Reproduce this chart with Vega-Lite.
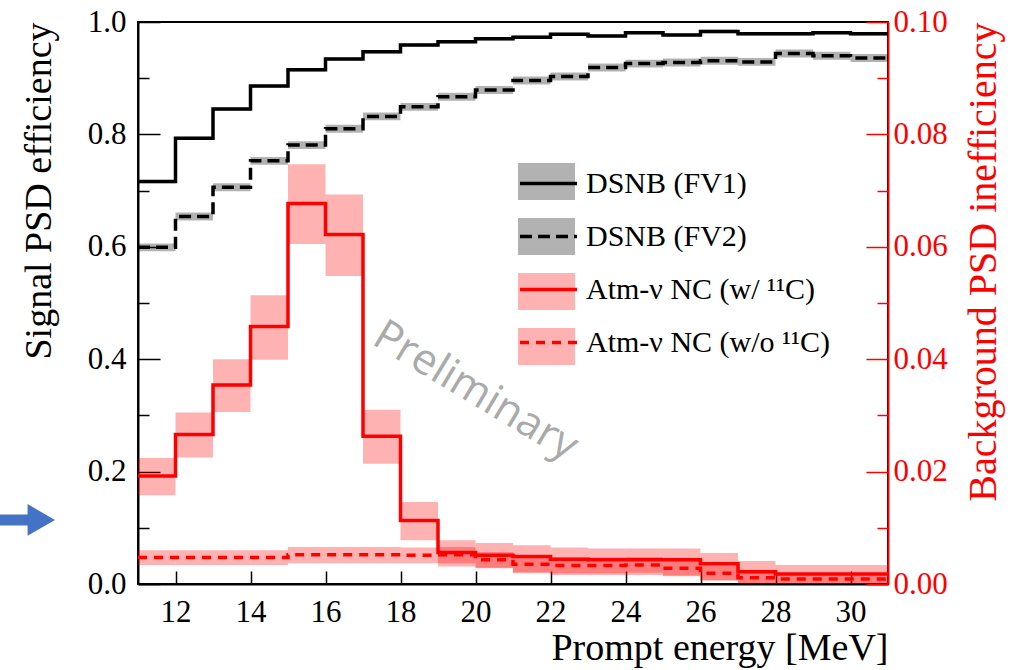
{
  "$schema": "https://vega.github.io/schema/vega-lite/v6.json",
  "width": 750,
  "height": 562,
  "autosize": {"type": "none"},
  "padding": {"left": 138, "top": 22, "right": 127, "bottom": 86},
  "background": "white",
  "config": {
    "view": {"stroke": "black", "strokeWidth": 2},
    "font": "Liberation Serif",
    "axis": {"grid": false}
  },
  "datasets": {
    "bins": [
      {"series": "DSNB (FV1)", "e": 11, "e2": 12, "lo": 0.713, "hi": 0.719},
      {"series": "DSNB (FV1)", "e": 12, "e2": 13, "lo": 0.790, "hi": 0.796},
      {"series": "DSNB (FV1)", "e": 13, "e2": 14, "lo": 0.842, "hi": 0.848},
      {"series": "DSNB (FV1)", "e": 14, "e2": 15, "lo": 0.883, "hi": 0.889},
      {"series": "DSNB (FV1)", "e": 15, "e2": 16, "lo": 0.912, "hi": 0.918},
      {"series": "DSNB (FV1)", "e": 16, "e2": 17, "lo": 0.931, "hi": 0.937},
      {"series": "DSNB (FV1)", "e": 17, "e2": 18, "lo": 0.944, "hi": 0.950},
      {"series": "DSNB (FV1)", "e": 18, "e2": 19, "lo": 0.956, "hi": 0.962},
      {"series": "DSNB (FV1)", "e": 19, "e2": 20, "lo": 0.962, "hi": 0.968},
      {"series": "DSNB (FV1)", "e": 20, "e2": 21, "lo": 0.967, "hi": 0.973},
      {"series": "DSNB (FV1)", "e": 21, "e2": 22, "lo": 0.970, "hi": 0.976},
      {"series": "DSNB (FV1)", "e": 22, "e2": 23, "lo": 0.975, "hi": 0.981},
      {"series": "DSNB (FV1)", "e": 23, "e2": 24, "lo": 0.972, "hi": 0.978},
      {"series": "DSNB (FV1)", "e": 24, "e2": 25, "lo": 0.978, "hi": 0.984},
      {"series": "DSNB (FV1)", "e": 25, "e2": 26, "lo": 0.974, "hi": 0.980},
      {"series": "DSNB (FV1)", "e": 26, "e2": 27, "lo": 0.980, "hi": 0.986},
      {"series": "DSNB (FV1)", "e": 27, "e2": 28, "lo": 0.976, "hi": 0.982},
      {"series": "DSNB (FV1)", "e": 28, "e2": 29, "lo": 0.976, "hi": 0.982},
      {"series": "DSNB (FV1)", "e": 29, "e2": 30, "lo": 0.978, "hi": 0.984},
      {"series": "DSNB (FV1)", "e": 30, "e2": 31, "lo": 0.976, "hi": 0.982},
      {"series": "DSNB (FV2)", "e": 11, "e2": 12, "lo": 0.592, "hi": 0.606},
      {"series": "DSNB (FV2)", "e": 12, "e2": 13, "lo": 0.647, "hi": 0.661},
      {"series": "DSNB (FV2)", "e": 13, "e2": 14, "lo": 0.699, "hi": 0.713},
      {"series": "DSNB (FV2)", "e": 14, "e2": 15, "lo": 0.746, "hi": 0.760},
      {"series": "DSNB (FV2)", "e": 15, "e2": 16, "lo": 0.774, "hi": 0.788},
      {"series": "DSNB (FV2)", "e": 16, "e2": 17, "lo": 0.803, "hi": 0.817},
      {"series": "DSNB (FV2)", "e": 17, "e2": 18, "lo": 0.825, "hi": 0.839},
      {"series": "DSNB (FV2)", "e": 18, "e2": 19, "lo": 0.842, "hi": 0.856},
      {"series": "DSNB (FV2)", "e": 19, "e2": 20, "lo": 0.860, "hi": 0.874},
      {"series": "DSNB (FV2)", "e": 20, "e2": 21, "lo": 0.872, "hi": 0.886},
      {"series": "DSNB (FV2)", "e": 21, "e2": 22, "lo": 0.889, "hi": 0.903},
      {"series": "DSNB (FV2)", "e": 22, "e2": 23, "lo": 0.896, "hi": 0.910},
      {"series": "DSNB (FV2)", "e": 23, "e2": 24, "lo": 0.912, "hi": 0.926},
      {"series": "DSNB (FV2)", "e": 24, "e2": 25, "lo": 0.919, "hi": 0.933},
      {"series": "DSNB (FV2)", "e": 25, "e2": 26, "lo": 0.921, "hi": 0.935},
      {"series": "DSNB (FV2)", "e": 26, "e2": 27, "lo": 0.924, "hi": 0.938},
      {"series": "DSNB (FV2)", "e": 27, "e2": 28, "lo": 0.922, "hi": 0.936},
      {"series": "DSNB (FV2)", "e": 28, "e2": 29, "lo": 0.937, "hi": 0.951},
      {"series": "DSNB (FV2)", "e": 29, "e2": 30, "lo": 0.933, "hi": 0.947},
      {"series": "DSNB (FV2)", "e": 30, "e2": 31, "lo": 0.929, "hi": 0.943},
      {"series": "Atm-ν NC (w/ ¹¹C)", "e": 11, "e2": 12, "lo": 0.0158, "hi": 0.0224},
      {"series": "Atm-ν NC (w/ ¹¹C)", "e": 12, "e2": 13, "lo": 0.0225, "hi": 0.0305},
      {"series": "Atm-ν NC (w/ ¹¹C)", "e": 13, "e2": 14, "lo": 0.0306, "hi": 0.0400},
      {"series": "Atm-ν NC (w/ ¹¹C)", "e": 14, "e2": 15, "lo": 0.0399, "hi": 0.0514},
      {"series": "Atm-ν NC (w/ ¹¹C)", "e": 15, "e2": 16, "lo": 0.0605, "hi": 0.0747},
      {"series": "Atm-ν NC (w/ ¹¹C)", "e": 16, "e2": 17, "lo": 0.0548, "hi": 0.0693},
      {"series": "Atm-ν NC (w/ ¹¹C)", "e": 17, "e2": 18, "lo": 0.0214, "hi": 0.0310},
      {"series": "Atm-ν NC (w/ ¹¹C)", "e": 18, "e2": 19, "lo": 0.0078, "hi": 0.0146},
      {"series": "Atm-ν NC (w/ ¹¹C)", "e": 19, "e2": 20, "lo": 0.0031, "hi": 0.0078},
      {"series": "Atm-ν NC (w/ ¹¹C)", "e": 20, "e2": 21, "lo": 0.0028, "hi": 0.0073},
      {"series": "Atm-ν NC (w/ ¹¹C)", "e": 21, "e2": 22, "lo": 0.0019, "hi": 0.0069},
      {"series": "Atm-ν NC (w/ ¹¹C)", "e": 22, "e2": 23, "lo": 0.0016, "hi": 0.0065},
      {"series": "Atm-ν NC (w/ ¹¹C)", "e": 23, "e2": 24, "lo": 0.0016, "hi": 0.0063},
      {"series": "Atm-ν NC (w/ ¹¹C)", "e": 24, "e2": 25, "lo": 0.0016, "hi": 0.0063},
      {"series": "Atm-ν NC (w/ ¹¹C)", "e": 25, "e2": 26, "lo": 0.0015, "hi": 0.0063},
      {"series": "Atm-ν NC (w/ ¹¹C)", "e": 26, "e2": 27, "lo": 0.0007, "hi": 0.0055},
      {"series": "Atm-ν NC (w/ ¹¹C)", "e": 27, "e2": 28, "lo": 0.0001, "hi": 0.0041},
      {"series": "Atm-ν NC (w/ ¹¹C)", "e": 28, "e2": 29, "lo": 0.0000, "hi": 0.0034},
      {"series": "Atm-ν NC (w/ ¹¹C)", "e": 29, "e2": 30, "lo": 0.0000, "hi": 0.0034},
      {"series": "Atm-ν NC (w/ ¹¹C)", "e": 30, "e2": 31, "lo": 0.0000, "hi": 0.0034},
      {"series": "Atm-ν NC (w/o ¹¹C)", "e": 11, "e2": 12, "lo": 0.0034, "hi": 0.0060},
      {"series": "Atm-ν NC (w/o ¹¹C)", "e": 12, "e2": 13, "lo": 0.0034, "hi": 0.0060},
      {"series": "Atm-ν NC (w/o ¹¹C)", "e": 13, "e2": 14, "lo": 0.0034, "hi": 0.0060},
      {"series": "Atm-ν NC (w/o ¹¹C)", "e": 14, "e2": 15, "lo": 0.0034, "hi": 0.0060},
      {"series": "Atm-ν NC (w/o ¹¹C)", "e": 15, "e2": 16, "lo": 0.0037, "hi": 0.0066},
      {"series": "Atm-ν NC (w/o ¹¹C)", "e": 16, "e2": 17, "lo": 0.0037, "hi": 0.0066},
      {"series": "Atm-ν NC (w/o ¹¹C)", "e": 17, "e2": 18, "lo": 0.0037, "hi": 0.0066},
      {"series": "Atm-ν NC (w/o ¹¹C)", "e": 18, "e2": 19, "lo": 0.0037, "hi": 0.0065},
      {"series": "Atm-ν NC (w/o ¹¹C)", "e": 19, "e2": 20, "lo": 0.0037, "hi": 0.0066},
      {"series": "Atm-ν NC (w/o ¹¹C)", "e": 20, "e2": 21, "lo": 0.0029, "hi": 0.0057},
      {"series": "Atm-ν NC (w/o ¹¹C)", "e": 21, "e2": 22, "lo": 0.0021, "hi": 0.0049},
      {"series": "Atm-ν NC (w/o ¹¹C)", "e": 22, "e2": 23, "lo": 0.0019, "hi": 0.0047},
      {"series": "Atm-ν NC (w/o ¹¹C)", "e": 23, "e2": 24, "lo": 0.0019, "hi": 0.0047},
      {"series": "Atm-ν NC (w/o ¹¹C)", "e": 24, "e2": 25, "lo": 0.0020, "hi": 0.0048},
      {"series": "Atm-ν NC (w/o ¹¹C)", "e": 25, "e2": 26, "lo": 0.0014, "hi": 0.0042},
      {"series": "Atm-ν NC (w/o ¹¹C)", "e": 26, "e2": 27, "lo": 0.0006, "hi": 0.0032},
      {"series": "Atm-ν NC (w/o ¹¹C)", "e": 27, "e2": 28, "lo": 0.0001, "hi": 0.0022},
      {"series": "Atm-ν NC (w/o ¹¹C)", "e": 28, "e2": 29, "lo": 0.0000, "hi": 0.0018},
      {"series": "Atm-ν NC (w/o ¹¹C)", "e": 29, "e2": 30, "lo": 0.0000, "hi": 0.0018},
      {"series": "Atm-ν NC (w/o ¹¹C)", "e": 30, "e2": 31, "lo": 0.0000, "hi": 0.0018}
    ],
    "steps": [
      {"series": "DSNB (FV1)", "e": 11, "v": 0.716},
      {"series": "DSNB (FV1)", "e": 12, "v": 0.793},
      {"series": "DSNB (FV1)", "e": 13, "v": 0.845},
      {"series": "DSNB (FV1)", "e": 14, "v": 0.886},
      {"series": "DSNB (FV1)", "e": 15, "v": 0.915},
      {"series": "DSNB (FV1)", "e": 16, "v": 0.934},
      {"series": "DSNB (FV1)", "e": 17, "v": 0.947},
      {"series": "DSNB (FV1)", "e": 18, "v": 0.959},
      {"series": "DSNB (FV1)", "e": 19, "v": 0.965},
      {"series": "DSNB (FV1)", "e": 20, "v": 0.970},
      {"series": "DSNB (FV1)", "e": 21, "v": 0.973},
      {"series": "DSNB (FV1)", "e": 22, "v": 0.978},
      {"series": "DSNB (FV1)", "e": 23, "v": 0.975},
      {"series": "DSNB (FV1)", "e": 24, "v": 0.981},
      {"series": "DSNB (FV1)", "e": 25, "v": 0.977},
      {"series": "DSNB (FV1)", "e": 26, "v": 0.983},
      {"series": "DSNB (FV1)", "e": 27, "v": 0.979},
      {"series": "DSNB (FV1)", "e": 28, "v": 0.979},
      {"series": "DSNB (FV1)", "e": 29, "v": 0.981},
      {"series": "DSNB (FV1)", "e": 30, "v": 0.979},
      {"series": "DSNB (FV1)", "e": 31, "v": 0.979},
      {"series": "DSNB (FV2)", "e": 11, "v": 0.599},
      {"series": "DSNB (FV2)", "e": 12, "v": 0.654},
      {"series": "DSNB (FV2)", "e": 13, "v": 0.706},
      {"series": "DSNB (FV2)", "e": 14, "v": 0.753},
      {"series": "DSNB (FV2)", "e": 15, "v": 0.781},
      {"series": "DSNB (FV2)", "e": 16, "v": 0.810},
      {"series": "DSNB (FV2)", "e": 17, "v": 0.832},
      {"series": "DSNB (FV2)", "e": 18, "v": 0.849},
      {"series": "DSNB (FV2)", "e": 19, "v": 0.867},
      {"series": "DSNB (FV2)", "e": 20, "v": 0.879},
      {"series": "DSNB (FV2)", "e": 21, "v": 0.896},
      {"series": "DSNB (FV2)", "e": 22, "v": 0.903},
      {"series": "DSNB (FV2)", "e": 23, "v": 0.919},
      {"series": "DSNB (FV2)", "e": 24, "v": 0.926},
      {"series": "DSNB (FV2)", "e": 25, "v": 0.928},
      {"series": "DSNB (FV2)", "e": 26, "v": 0.931},
      {"series": "DSNB (FV2)", "e": 27, "v": 0.929},
      {"series": "DSNB (FV2)", "e": 28, "v": 0.944},
      {"series": "DSNB (FV2)", "e": 29, "v": 0.940},
      {"series": "DSNB (FV2)", "e": 30, "v": 0.936},
      {"series": "DSNB (FV2)", "e": 31, "v": 0.936},
      {"series": "Atm-ν NC (w/ ¹¹C)", "e": 11, "v": 0.0192},
      {"series": "Atm-ν NC (w/ ¹¹C)", "e": 12, "v": 0.0266},
      {"series": "Atm-ν NC (w/ ¹¹C)", "e": 13, "v": 0.0354},
      {"series": "Atm-ν NC (w/ ¹¹C)", "e": 14, "v": 0.0458},
      {"series": "Atm-ν NC (w/ ¹¹C)", "e": 15, "v": 0.0677},
      {"series": "Atm-ν NC (w/ ¹¹C)", "e": 16, "v": 0.0622},
      {"series": "Atm-ν NC (w/ ¹¹C)", "e": 17, "v": 0.0263},
      {"series": "Atm-ν NC (w/ ¹¹C)", "e": 18, "v": 0.0113},
      {"series": "Atm-ν NC (w/ ¹¹C)", "e": 19, "v": 0.0056},
      {"series": "Atm-ν NC (w/ ¹¹C)", "e": 20, "v": 0.0051},
      {"series": "Atm-ν NC (w/ ¹¹C)", "e": 21, "v": 0.0049},
      {"series": "Atm-ν NC (w/ ¹¹C)", "e": 22, "v": 0.0044},
      {"series": "Atm-ν NC (w/ ¹¹C)", "e": 23, "v": 0.0043},
      {"series": "Atm-ν NC (w/ ¹¹C)", "e": 24, "v": 0.0043},
      {"series": "Atm-ν NC (w/ ¹¹C)", "e": 25, "v": 0.0043},
      {"series": "Atm-ν NC (w/ ¹¹C)", "e": 26, "v": 0.0036},
      {"series": "Atm-ν NC (w/ ¹¹C)", "e": 27, "v": 0.0022},
      {"series": "Atm-ν NC (w/ ¹¹C)", "e": 28, "v": 0.0018},
      {"series": "Atm-ν NC (w/ ¹¹C)", "e": 29, "v": 0.0018},
      {"series": "Atm-ν NC (w/ ¹¹C)", "e": 30, "v": 0.0018},
      {"series": "Atm-ν NC (w/ ¹¹C)", "e": 31, "v": 0.0018},
      {"series": "Atm-ν NC (w/o ¹¹C)", "e": 11, "v": 0.0047},
      {"series": "Atm-ν NC (w/o ¹¹C)", "e": 12, "v": 0.0047},
      {"series": "Atm-ν NC (w/o ¹¹C)", "e": 13, "v": 0.0047},
      {"series": "Atm-ν NC (w/o ¹¹C)", "e": 14, "v": 0.0047},
      {"series": "Atm-ν NC (w/o ¹¹C)", "e": 15, "v": 0.0052},
      {"series": "Atm-ν NC (w/o ¹¹C)", "e": 16, "v": 0.0052},
      {"series": "Atm-ν NC (w/o ¹¹C)", "e": 17, "v": 0.0052},
      {"series": "Atm-ν NC (w/o ¹¹C)", "e": 18, "v": 0.0051},
      {"series": "Atm-ν NC (w/o ¹¹C)", "e": 19, "v": 0.0052},
      {"series": "Atm-ν NC (w/o ¹¹C)", "e": 20, "v": 0.0043},
      {"series": "Atm-ν NC (w/o ¹¹C)", "e": 21, "v": 0.0035},
      {"series": "Atm-ν NC (w/o ¹¹C)", "e": 22, "v": 0.0033},
      {"series": "Atm-ν NC (w/o ¹¹C)", "e": 23, "v": 0.0033},
      {"series": "Atm-ν NC (w/o ¹¹C)", "e": 24, "v": 0.0034},
      {"series": "Atm-ν NC (w/o ¹¹C)", "e": 25, "v": 0.0028},
      {"series": "Atm-ν NC (w/o ¹¹C)", "e": 26, "v": 0.0019},
      {"series": "Atm-ν NC (w/o ¹¹C)", "e": 27, "v": 0.0011},
      {"series": "Atm-ν NC (w/o ¹¹C)", "e": 28, "v": 0.0009},
      {"series": "Atm-ν NC (w/o ¹¹C)", "e": 29, "v": 0.0009},
      {"series": "Atm-ν NC (w/o ¹¹C)", "e": 30, "v": 0.0009},
      {"series": "Atm-ν NC (w/o ¹¹C)", "e": 31, "v": 0.0009}
    ]
  },
  "layer": [
    {
      "layer": [
        {
          "data": {"name": "bins"},
          "transform": [{"filter": {"field": "series", "oneOf": ["DSNB (FV1)", "DSNB (FV2)"]}}],
          "mark": {"type": "rect", "opacity": 0.3},
          "encoding": {
            "x": {
              "field": "e", "type": "quantitative",
              "scale": {"domain": [11, 31], "nice": false, "zero": false},
              "axis": {
                "title": "Prompt energy [MeV]",
                "values": [12, 14, 16, 18, 20, 22, 24, 26, 28, 30],
                "tickSize": -13,
                "tickColor": "black", "tickWidth": 1.5,
                "domainColor": "black", "domainWidth": 2,
                "labelFont": "Liberation Serif", "labelFontSize": 31, "labelColor": "black",
                "labelPadding": 26, "labelFlush": false, "labelOverlap": false,
                "titleFont": "Liberation Serif", "titleFontSize": 38, "titleFontWeight": "normal",
                "titleColor": "black", "titleAnchor": "end", "titlePadding": 2
              }
            },
            "x2": {"field": "e2"},
            "y": {
              "field": "lo", "type": "quantitative",
              "scale": {"domain": [0, 1], "nice": false, "zero": false},
              "axis": {
                "orient": "left",
                "title": "Signal PSD efficiency",
                "values": [0, 0.05, 0.1, 0.15, 0.2, 0.25, 0.3, 0.35, 0.4, 0.45, 0.5, 0.55, 0.6, 0.65, 0.7, 0.75, 0.8, 0.85, 0.9, 0.95, 1.0],
                "labelExpr": "round(datum.value * 100) % 20 == 0 ? format(datum.value, '.1f') : ''",
                "tickSize": -22,
                "tickDash": {"condition": {"test": "round(datum.value * 100) % 20 != 0", "value": [11, 50]}, "value": [50, 0]},
                "tickColor": "black", "tickWidth": 1.5,
                "domainColor": "black", "domainWidth": 2,
                "labelFont": "Liberation Serif", "labelFontSize": 31, "labelColor": "black",
                "labelPadding": 34, "labelFlush": false, "labelOverlap": false,
                "titleFont": "Liberation Serif", "titleFontSize": 38, "titleFontWeight": "normal",
                "titleColor": "black", "titleAnchor": "end", "titlePadding": 29
              }
            },
            "y2": {"field": "hi"},
            "fill": {
              "field": "series", "type": "nominal",
              "sort": ["DSNB (FV1)", "DSNB (FV2)", "Atm-ν NC (w/ ¹¹C)", "Atm-ν NC (w/o ¹¹C)"],
              "scale": {"range": ["black", "black", "red", "red"]},
              "legend": {
                "orient": "none", "legendX": 380, "legendY": 131, "title": null, "padding": 0,
                "symbolType": "M-1,-0.65H1V0.65H-1Z", "symbolSize": 3249, "symbolStrokeWidth": 0,
                "symbolOpacity": 0.3,
                "labelExpr": "''", "labelFont": "Liberation Serif", "labelFontSize": 30,
                "labelOffset": 7, "rowPadding": 7, "labelLimit": 400
              }
            }
          }
        },
        {
          "data": {"name": "steps"},
          "transform": [{"filter": {"field": "series", "oneOf": ["DSNB (FV1)", "DSNB (FV2)"]}}],
          "mark": {"type": "line", "interpolate": "step-after", "strokeWidth": 3.5},
          "encoding": {
            "x": {"field": "e", "type": "quantitative"},
            "y": {"field": "v", "type": "quantitative"},
            "stroke": {
              "field": "series", "type": "nominal",
              "scale": {"domain": ["DSNB (FV1)", "DSNB (FV2)", "Atm-ν NC (w/ ¹¹C)", "Atm-ν NC (w/o ¹¹C)"], "range": ["black", "black", "red", "red"]},
              "legend": {
                "orient": "none", "legendX": 380, "legendY": 131, "title": null, "padding": 0,
                "symbolType": "stroke", "symbolSize": 3249, "symbolStrokeWidth": 3.5,
                "labelFont": "Liberation Serif", "labelFontSize": 30, "labelColor": "black",
                "labelOffset": 7, "rowPadding": 7, "labelLimit": 400
              }
            },
            "strokeDash": {
              "field": "series", "type": "nominal",
              "scale": {"domain": ["DSNB (FV1)", "DSNB (FV2)", "Atm-ν NC (w/ ¹¹C)", "Atm-ν NC (w/o ¹¹C)"], "range": [[1, 0], [12, 6], [1, 0], [9, 7]]}
            }
          }
        },
        {
          "data": {"values": [{"label": "Preliminary", "e": 20, "v": 0.343}]},
          "mark": {"type": "text", "font": "Open Sans", "fontSize": 43, "color": "#aaaaaa", "angle": 31, "align": "center", "baseline": "middle"},
          "encoding": {
            "x": {"field": "e", "type": "quantitative"},
            "y": {"field": "v", "type": "quantitative"},
            "text": {"field": "label"}
          }
        },
        {
          "data": {"values": [{"e": 7.3, "e2": 8.2, "v": 0.114}]},
          "mark": {"type": "rule", "color": "#4472c4", "strokeWidth": 11, "clip": false},
          "encoding": {
            "x": {"field": "e", "type": "quantitative"},
            "x2": {"field": "e2"},
            "y": {"field": "v", "type": "quantitative"}
          }
        },
        {
          "data": {"values": [{"e": 8.42, "v": 0.114}]},
          "mark": {"type": "point", "shape": "triangle-right", "filled": true, "color": "#4472c4", "size": 1000, "opacity": 1, "clip": false},
          "encoding": {
            "x": {"field": "e", "type": "quantitative"},
            "y": {"field": "v", "type": "quantitative"}
          }
        }
      ]
    },
    {
      "layer": [
        {
          "data": {"name": "bins"},
          "transform": [{"filter": {"field": "series", "oneOf": ["Atm-ν NC (w/ ¹¹C)", "Atm-ν NC (w/o ¹¹C)"]}}],
          "mark": {"type": "rect", "opacity": 0.3},
          "encoding": {
            "x": {"field": "e", "type": "quantitative"},
            "x2": {"field": "e2"},
            "y": {
              "field": "lo", "type": "quantitative",
              "scale": {"domain": [0, 0.1], "nice": false, "zero": false},
              "axis": {
                "orient": "right",
                "title": "Background PSD inefficiency",
                "values": [0, 0.005, 0.01, 0.015, 0.02, 0.025, 0.03, 0.035, 0.04, 0.045, 0.05, 0.055, 0.06, 0.065, 0.07, 0.075, 0.08, 0.085, 0.09, 0.095, 0.1],
                "labelExpr": "round(datum.value * 1000) % 20 == 0 ? format(datum.value, '.2f') : ''",
                "tickSize": -22,
                "tickDash": {"condition": {"test": "round(datum.value * 1000) % 20 != 0", "value": [11, 50]}, "value": [50, 0]},
                "tickColor": "red", "tickWidth": 1.5,
                "domainColor": "red", "domainWidth": 2,
                "labelFont": "Liberation Serif", "labelFontSize": 31, "labelColor": "red",
                "labelPadding": 27, "labelFlush": false, "labelOverlap": false,
                "titleFont": "Liberation Serif", "titleFontSize": 40, "titleFontWeight": "normal",
                "titleColor": "red", "titleAnchor": "end", "titleAngle": 270, "titleBaseline": "top", "titlePadding": 16
              }
            },
            "y2": {"field": "hi"},
            "fill": {
              "field": "series", "type": "nominal",
              "sort": ["DSNB (FV1)", "DSNB (FV2)", "Atm-ν NC (w/ ¹¹C)", "Atm-ν NC (w/o ¹¹C)"],
              "scale": {"range": ["black", "black", "red", "red"]}
            }
          }
        },
        {
          "data": {"name": "steps"},
          "transform": [{"filter": {"field": "series", "oneOf": ["Atm-ν NC (w/ ¹¹C)", "Atm-ν NC (w/o ¹¹C)"]}}],
          "mark": {"type": "line", "interpolate": "step-after", "strokeWidth": 3.5},
          "encoding": {
            "x": {"field": "e", "type": "quantitative"},
            "y": {"field": "v", "type": "quantitative"},
            "stroke": {
              "field": "series", "type": "nominal",
              "scale": {"domain": ["DSNB (FV1)", "DSNB (FV2)", "Atm-ν NC (w/ ¹¹C)", "Atm-ν NC (w/o ¹¹C)"], "range": ["black", "black", "red", "red"]}
            },
            "strokeDash": {
              "field": "series", "type": "nominal",
              "scale": {"domain": ["DSNB (FV1)", "DSNB (FV2)", "Atm-ν NC (w/ ¹¹C)", "Atm-ν NC (w/o ¹¹C)"], "range": [[1, 0], [12, 6], [1, 0], [9, 7]]}
            }
          }
        }
      ]
    }
  ],
  "resolve": {"scale": {"y": "independent"}}
}
